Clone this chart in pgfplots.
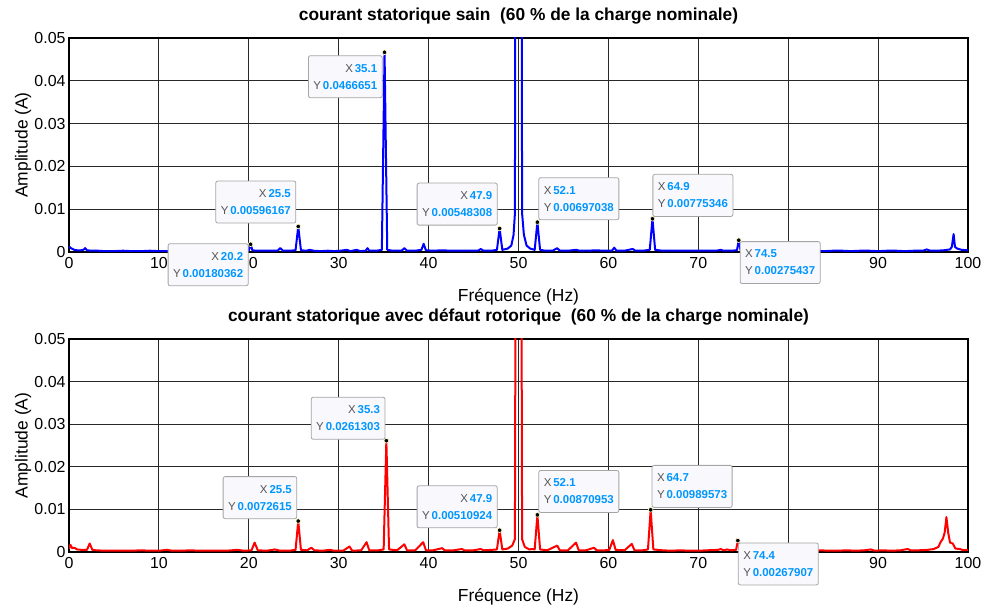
\documentclass[border=0pt]{standalone}
\usepackage{pgfplots}
\pgfplotsset{compat=1.18}
\usepackage{fontspec}
\setmainfont{Liberation Sans}

\definecolor{tipblue}{RGB}{0,150,255}
\definecolor{tipgray}{RGB}{85,85,85}
\definecolor{tipfill}{RGB}{248,248,253}
\definecolor{tipborder}{RGB}{165,165,165}
\definecolor{gridc}{RGB}{40,40,40}
\definecolor{tipedge}{RGB}{255,255,205}

% data-tip text: two lines, X and Y
\newcommand{\tiptext}[2]{{\color{tipgray}X}\,{\bfseries\color{tipblue}#1}\\{\color{tipgray}Y}\,{\bfseries\color{tipblue}#2}}

\pgfplotsset{
  spec/.style={
    scale only axis, width=899bp, height=214bp,
    xmin=0, xmax=100, ymin=0, ymax=0.05,
    scaled y ticks=false,
    xtick={0,10,20,30,40,50,60,70,80,90,100},
    xticklabels={0,10,20,30,40,50,60,70,80,90,100},
    ytick={0,0.01,0.02,0.03,0.04,0.05},
    yticklabels={0,0.01,0.02,0.03,0.04,0.05},
    grid=major,
    major grid style={gridc, line width=0.9bp},
    axis line style={black, line width=1.2bp},
    major tick length=0pt,
    tick label style={font=\fontsize{16}{18}\selectfont},
    xticklabel style={yshift=-2bp},
    clip mode=individual,
    xlabel={Fréquence (Hz)},
    ylabel={Amplitude (A)},
    label style={font=\fontsize{17.5}{20}\selectfont},
    x label style={at={(axis description cs:0.5,0)}, anchor=center, yshift=-45bp},
    y label style={at={(axis description cs:-0.051,0.5)}, anchor=center},
    title style={at={(axis description cs:0.5,1)}, anchor=base, yshift=12bp,
                 font=\fontsize{17.4}{20}\selectfont\bfseries},
  },
  tipmark/.style={only marks, mark=*, mark size=2.3bp,
                  mark options={fill=black, draw=tipedge, line width=0.6bp}},
}

\tikzset{
  tipL/.style={draw=tipborder, fill=tipfill, rounded corners=2bp, line width=0.8bp,
               inner xsep=5bp, inner ysep=8.5bp, align=right,
               font=\fontsize{11.5}{17}\selectfont},
  tipR/.style={tipL, align=left},
}

\begin{document}
\begin{tikzpicture}
\useasboundingbox (0,0) rectangle (984bp,608bp);

% ---------- healthy machine ----------
\begin{axis}[spec, at={(69bp,356bp)}, anchor=south west,
  title={courant statorique sain\ \ (60 \% de la charge nominale)}]
\addplot[blue, line width=2bp, line join=round] coordinates {
(0,0.0013)(0.2,0.0009)(0.4,0.0007)(0.6,0.0005)(0.9,0.0004)(1.3,0.0004)(1.6,0.0005)
(1.8,0.0009)(2.0,0.0004)(2.5,0.0003)(3.2,0.0003)(4,0.0002)(5,0.0002)(6,0.0003)
(7,0.0002)(8,0.0002)(9,0.0003)(10,0.0002)(11,0.0002)(12,0.0003)(13,0.0002)
(14,0.0002)(15,0.0003)(16,0.0002)(17,0.0002)(18,0.0003)(19,0.0002)(19.8,0.0003)
(20.0,0.0004)(20.2,0.00180362)(20.4,0.0004)(20.8,0.0003)(21.5,0.0003)(22.3,0.0003)
(23.2,0.0003)(23.5,0.0009)(23.8,0.0003)(24.5,0.0003)(25.2,0.0004)(25.5,0.00596167)
(25.8,0.0004)(26.4,0.0003)(26.8,0.0005)(27.2,0.0003)(28,0.0002)(28.8,0.0003)
(29.5,0.0002)(30.2,0.0003)(30.9,0.0005)(31.3,0.0002)(32,0.0005)(32.4,0.0002)
(33,0.0003)(33.2,0.0009)(33.4,0.0003)(34.2,0.0003)(34.8,0.0005)(35.1,0.0466651)
(35.4,0.0005)(36,0.0003)(37,0.0003)(37.3,0.0009)(37.6,0.0003)(38.5,0.0003)
(39.2,0.0005)(39.45,0.0019)(39.7,0.0004)(40.5,0.0003)(41.5,0.0004)(42.5,0.0003)
(43.5,0.0003)(44.5,0.0003)(45.5,0.0003)(45.8,0.0007)(46.1,0.0003)(47,0.0003)
(47.6,0.0005)(47.9,0.00548308)(48.2,0.0005)(48.8,0.0008)(49.2,0.0015)(49.45,0.004)
(49.6,0.009)(49.75,0.2)(50.25,0.2)(50.4,0.009)(50.6,0.004)(50.9,0.0015)(51.3,0.0008)
(51.8,0.0005)(52.1,0.00697038)(52.4,0.0005)(53,0.0003)(53.8,0.0003)(54.3,0.0009)
(54.6,0.0003)(55.5,0.0003)(56.4,0.0005)(56.8,0.0003)(57.7,0.0003)(58.6,0.0004)
(59.5,0.0003)(60.4,0.0003)(60.65,0.0010)(60.9,0.0003)(61.8,0.0003)(62.7,0.0007)
(63,0.0003)(63.8,0.0003)(64.6,0.0005)(64.9,0.00775346)(65.2,0.0005)(66,0.0003)
(67,0.0003)(68,0.0003)(69,0.0003)(70,0.0003)(71,0.0003)(72,0.0003)(72.5,0.0005)
(72.8,0.0003)(73.6,0.0003)(74.3,0.0004)(74.5,0.00275437)(74.7,0.0004)(75.5,0.0003)
(77,0.0003)(78,0.0002)(79,0.0003)(80,0.0003)(81,0.0002)(82,0.0003)(83,0.0003)
(84,0.0002)(85,0.0003)(86,0.0003)(87,0.0002)(88,0.0003)(89,0.0003)(90,0.0002)
(91,0.0003)(92,0.0003)(93,0.0002)(94,0.0003)(95,0.0003)(95.4,0.0006)(95.8,0.0003)
(96.5,0.0003)(97.3,0.0004)(98,0.0006)(98.2,0.0012)(98.4,0.0042)(98.55,0.0012)
(98.8,0.0008)(99.3,0.0005)(100,0.0004)
};
\addplot[tipmark] coordinates {
(20.2,0.00180362)(25.5,0.00596167)(35.1,0.0466651)(47.9,0.00548308)
(52.1,0.00697038)(64.9,0.00775346)(74.5,0.00275437)
};
\coordinate (a1) at (axis cs:20.2,0.00180362);
\coordinate (a2) at (axis cs:25.5,0.00596167);
\coordinate (a3) at (axis cs:35.1,0.0466651);
\coordinate (a4) at (axis cs:47.9,0.00548308);
\coordinate (a5) at (axis cs:52.1,0.00697038);
\coordinate (a6) at (axis cs:64.9,0.00775346);
\coordinate (a7) at (axis cs:74.5,0.00275437);
\end{axis}

\node[tipL, anchor=north east, xshift=-2bp, yshift=1bp] at (a1) {\tiptext{20.2}{0.00180362}};
\node[tipL, anchor=south east, xshift=-2bp, yshift=3bp] at (a2) {\tiptext{25.5}{0.00596167}};
\node[tipL, anchor=north east, xshift=-2bp, yshift=-3bp] at (a3) {\tiptext{35.1}{0.0466651}};
\node[tipL, anchor=south east, xshift=-2bp, yshift=3bp] at (a4) {\tiptext{47.9}{0.00548308}};
\node[tipR, anchor=south west, xshift=1bp, yshift=2bp] at (a5) {\tiptext{52.1}{0.00697038}};
\node[tipR, anchor=south west, xshift=0bp, yshift=2bp] at (a6) {\tiptext{64.9}{0.00775346}};
\node[tipR, anchor=north west, xshift=1bp, yshift=-1bp] at (a7) {\tiptext{74.5}{0.00275437}};

% ---------- rotor fault ----------
\begin{axis}[spec, at={(69bp,56bp)}, anchor=south west, height=213bp,
  title={courant statorique avec défaut rotorique\ \ (60 \% de la charge nominale)}]
\addplot[red, line width=2bp, line join=round] coordinates {
(0,0.0008)(0.15,0.0017)(0.35,0.0009)(0.6,0.0010)(0.9,0.0006)(1.4,0.0005)(2.0,0.0005)
(2.3,0.0020)(2.6,0.0005)(3,0.0004)(4,0.0003)(5,0.0003)(6,0.0003)(7,0.0003)(8,0.0004)
(9,0.0003)(10,0.0003)(10.9,0.0005)(11.5,0.0003)(12.5,0.0003)(13.5,0.0004)(14.5,0.0003)
(15.5,0.0003)(16.5,0.0003)(17.5,0.0003)(18.7,0.0005)(19.5,0.0003)(20.3,0.0004)
(20.65,0.0022)(21,0.0004)(22,0.0003)(22.9,0.0006)(23.5,0.0003)(24.5,0.0003)
(25.2,0.0005)(25.5,0.0072615)(25.8,0.0005)(26.5,0.0004)(26.95,0.0010)(27.3,0.0004)
(28.2,0.0003)(29,0.0005)(29.5,0.0003)(30.5,0.0003)(31.2,0.0013)(31.5,0.0003)
(32.5,0.0004)(33.1,0.0023)(33.4,0.0004)(34.4,0.0004)(35,0.0006)(35.3,0.0261303)
(35.6,0.0006)(36.5,0.0004)(37.3,0.0018)(37.6,0.0004)(38.5,0.0004)(39.4,0.0023)
(39.7,0.0004)(40.5,0.0004)(41.5,0.0009)(41.8,0.0004)(42.8,0.0004)(43.7,0.0007)
(44,0.0004)(45,0.0004)(45.8,0.0007)(46.1,0.0004)(47,0.0005)(47.6,0.0006)
(47.9,0.00510924)(48.2,0.0006)(48.8,0.0008)(49.3,0.0015)(49.6,0.003)(49.82,0.2)
(50.18,0.2)(50.4,0.003)(50.7,0.0012)(51.2,0.0006)(51.5,0.0007)(51.8,0.0006)
(52.1,0.00870953)(52.4,0.0006)(53.2,0.0004)(54.3,0.0015)(54.6,0.0004)(55.5,0.0004)
(56.4,0.0022)(56.7,0.0004)(57.5,0.0004)(58.4,0.0010)(58.7,0.0004)(59.6,0.0004)
(60.1,0.0005)(60.5,0.0028)(60.8,0.0005)(61.8,0.0004)(62.6,0.0019)(62.9,0.0004)
(63.8,0.0004)(64.4,0.0006)(64.7,0.00989573)(65,0.0006)(66,0.0004)(67,0.0003)
(68,0.0004)(69,0.0003)(70,0.0003)(71,0.0004)(72.2,0.0005)(72.5,0.0007)(72.8,0.0004)
(73.2,0.0006)(73.6,0.0004)(74.2,0.0005)(74.4,0.00267907)(74.6,0.0005)(75.5,0.0004)
(76.5,0.0003)(77.5,0.0004)(78.5,0.0003)(79.5,0.0004)(80.5,0.0003)(81.5,0.0004)
(82.5,0.0003)(83.5,0.0004)(84.5,0.0003)(85.5,0.0003)(86.5,0.0004)(87.5,0.0003)
(88.5,0.0004)(89.2,0.0006)(89.6,0.0003)(90.5,0.0004)(91.5,0.0003)(92.5,0.0004)
(93.3,0.0007)(93.6,0.0004)(94.5,0.0004)(95.5,0.0005)(96.2,0.0007)(96.7,0.0012)
(97,0.0025)(97.2,0.0031)(97.4,0.0045)(97.6,0.0082)(97.8,0.0045)(98,0.0022)
(98.3,0.0020)(98.6,0.0008)(99.1,0.0007)(99.5,0.0004)(100,0.0005)
};
\addplot[tipmark] coordinates {
(25.5,0.0072615)(35.3,0.0261303)(47.9,0.00510924)(52.1,0.00870953)
(64.7,0.00989573)(74.4,0.00267907)
};
\coordinate (b1) at (axis cs:25.5,0.0072615);
\coordinate (b2) at (axis cs:35.3,0.0261303);
\coordinate (b3) at (axis cs:47.9,0.00510924);
\coordinate (b4) at (axis cs:52.1,0.00870953);
\coordinate (b5) at (axis cs:64.7,0.00989573);
\coordinate (b6) at (axis cs:74.4,0.00267907);
\end{axis}

\node[tipL, anchor=south east, xshift=-1bp, yshift=2bp] at (b1) {\tiptext{25.5}{0.0072615}};
\node[tipL, anchor=south east, xshift=-1bp, yshift=1bp] at (b2) {\tiptext{35.3}{0.0261303}};
\node[tipL, anchor=south east, xshift=-2bp, yshift=2bp] at (b3) {\tiptext{47.9}{0.00510924}};
\node[tipR, anchor=south west, xshift=1bp, yshift=2bp] at (b4) {\tiptext{52.1}{0.00870953}};
\node[tipR, anchor=south west, xshift=1bp, yshift=2bp] at (b5) {\tiptext{64.7}{0.00989573}};
\node[tipR, anchor=north west, xshift=0bp, yshift=-2bp] at (b6) {\tiptext{74.4}{0.00267907}};
\end{tikzpicture}
\end{document}
